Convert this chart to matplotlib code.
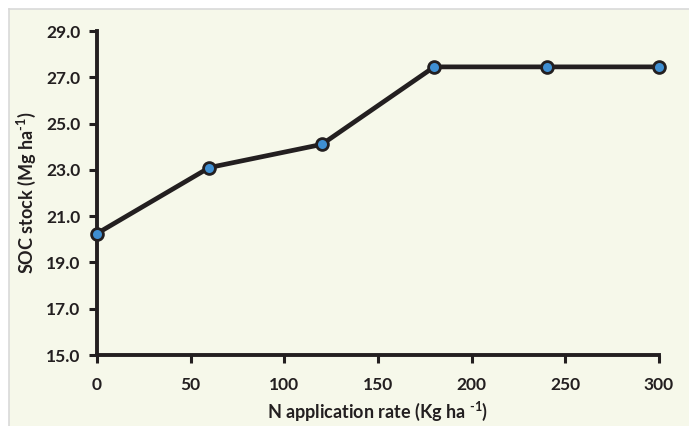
import matplotlib
matplotlib.use("Agg")
import matplotlib.pyplot as plt
from matplotlib.patches import Rectangle
from matplotlib.lines import Line2D

n_rate = [0, 60, 120, 180, 240, 300]
soc_stock = [20.25, 23.1, 24.1, 27.45, 27.45, 27.45]
x_ticks = [0, 50, 100, 150, 200, 250, 300]
y_ticks = [15.0, 17.0, 19.0, 21.0, 23.0, 25.0, 27.0, 29.0]

plt.rcParams['font.family'] = ['Lato', 'DejaVu Sans']
plt.rcParams['mathtext.default'] = 'regular'

W, H = 689, 426
fig = plt.figure(figsize=(W/100, H/100), dpi=100, facecolor='white')
bg = '#F6F8EA'
fig.patches.append(Rectangle((9/W, 0), 1 - 9/W, 1 - 9/H, transform=fig.transFigure,
                             facecolor=bg, edgecolor='none', zorder=-10))
fig.lines.append(Line2D([9/W, 1], [1 - 9/H, 1 - 9/H], transform=fig.transFigure, color='#D9D9D9', lw=1.2, zorder=-9))
fig.lines.append(Line2D([9/W, 9/W], [0, 1 - 9/H], transform=fig.transFigure, color='#D9D9D9', lw=1.2, zorder=-9))

ax = fig.add_axes([97/W, 1 - 355/H, (659 - 97)/W, (355 - 31)/H])
ax.set_facecolor('none')
ax.plot(n_rate, soc_stock, color='#231F20', lw=3.4, marker='o', markersize=8.5,
        markerfacecolor='#3F8FD2', markeredgecolor='#231F20', markeredgewidth=2,
        clip_on=False, zorder=5)
ax.set_xlim(0, 300)
ax.set_ylim(15, 29)
ax.set_xticks(x_ticks)
ax.set_yticks(y_ticks)
ax.set_yticklabels([f"{v:.1f}" for v in y_ticks])
for s in ['top', 'right']:
    ax.spines[s].set_visible(False)
for s in ['left', 'bottom']:
    ax.spines[s].set_linewidth(2.8)
    ax.spines[s].set_color('#231F20')
ax.tick_params(axis='both', direction='out', length=6, width=2.2, color='#231F20',
               labelsize=12.5, labelcolor='#231F20')
ax.tick_params(axis='x', pad=10)
ax.tick_params(axis='y', pad=6)
for lab in ax.get_xticklabels() + ax.get_yticklabels():
    lab.set_fontweight('bold')
ax.set_ylabel('SOC stock (Mg ha$^{\u2010 1}$)', fontsize=13, fontweight='bold',
              color='#231F20', labelpad=6)
ax.set_xlabel('N application rate (Kg ha $^{\u20101}$)', fontsize=13,
              fontweight='bold', color='#231F20', labelpad=5)
fig.savefig('out.png', dpi=100, facecolor='white')
